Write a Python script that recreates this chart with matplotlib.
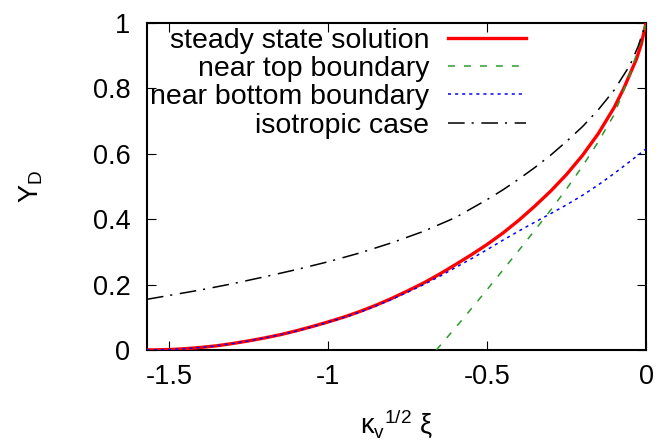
import numpy as np
import matplotlib
matplotlib.use("Agg")
import matplotlib.pyplot as plt

# === DATA ===
steady_x = [-1.571, -1.5, -1.45, -1.4, -1.35, -1.3, -1.25, -1.2, -1.15, -1.1,
            -1.05, -1.0, -0.95, -0.9, -0.85, -0.8, -0.75, -0.7, -0.65, -0.6,
            -0.55, -0.5, -0.45, -0.4, -0.35, -0.3, -0.25, -0.2, -0.15, -0.1,
            -0.07, -0.05, -0.03, -0.015, 0.0]
steady_y = [0.0, 0.0014, 0.004, 0.008, 0.013, 0.020, 0.028, 0.037, 0.047, 0.059,
            0.072, 0.086, 0.101, 0.118, 0.137, 0.158, 0.181, 0.205, 0.232, 0.261,
            0.291, 0.323, 0.358, 0.397, 0.440, 0.486, 0.537, 0.595, 0.662, 0.742,
            0.800, 0.845, 0.890, 0.935, 1.0]

top_x = [-0.66, -0.6, -0.55, -0.5, -0.45, -0.4, -0.35, -0.3, -0.25, -0.2,
         -0.15, -0.1, -0.05, -0.025, 0.0]
top_y = [0.0, 0.068, 0.126, 0.185, 0.245, 0.305, 0.366, 0.428, 0.493, 0.562,
         0.637, 0.720, 0.845, 0.920, 1.0]

bottom_x = [-1.571, -1.5, -1.45, -1.4, -1.35, -1.3, -1.25, -1.2, -1.15, -1.1,
            -1.05, -1.0, -0.95, -0.9, -0.85, -0.8, -0.75, -0.7, -0.65, -0.6,
            -0.55, -0.5, -0.45, -0.4, -0.35, -0.3, -0.25, -0.2, -0.15, -0.1,
            -0.05, 0.0]
bottom_y = [0.0, 0.0014, 0.004, 0.008, 0.013, 0.020, 0.028, 0.037, 0.047, 0.058,
            0.071, 0.085, 0.100, 0.116, 0.135, 0.155, 0.177, 0.200, 0.225, 0.252,
            0.279, 0.307, 0.336, 0.364, 0.391, 0.417, 0.444, 0.473, 0.505, 0.540,
            0.577, 0.615]

iso_x = [-1.571, -1.5, -1.4, -1.3, -1.2, -1.1, -1.0, -0.9, -0.8, -0.7,
         -0.6, -0.5, -0.45, -0.4, -0.35, -0.3, -0.25, -0.2, -0.15, -0.1,
         -0.05, -0.025, 0.0]
iso_y = [0.155, 0.167, 0.184, 0.203, 0.224, 0.246, 0.270, 0.297, 0.328, 0.363,
         0.405, 0.460, 0.490, 0.523, 0.558, 0.596, 0.638, 0.683, 0.735, 0.795,
         0.872, 0.928, 1.0]

zero_x = [-1.571, 0.0]
zero_y = [0.0, 0.0]

xticks = [-1.5, -1.0, -0.5, 0.0]
xtick_labels = ["-1.5", "-1", "-0.5", "0"]
yticks = [0, 0.2, 0.4, 0.6, 0.8, 1.0]
ytick_labels = ["0", "0.2", "0.4", "0.6", "0.8", "1"]

# === STYLE ===
plt.rcParams["font.family"] = ["Liberation Sans", "DejaVu Sans"]
plt.rcParams["mathtext.fontset"] = "custom"
plt.rcParams["mathtext.rm"] = "Liberation Sans"
plt.rcParams["mathtext.it"] = "Liberation Sans"
plt.rcParams["mathtext.default"] = "regular"
fs = 19.5
fs_leg = 20.5

fig = plt.figure(figsize=(6.61, 4.46), dpi=100)
ax = fig.add_axes([147 / 661, 1 - 350 / 446, 499 / 661, 327 / 446])

lw = 1.1
dashdot = (12 / lw, 5 / lw, 1.5 / lw, 5.5 / lw)
ax.plot(zero_x, zero_y, color="black", lw=lw, dashes=dashdot, zorder=1)
ax.plot(steady_x, steady_y, color="#ff0000", lw=2.4, label="steady state solution", zorder=3)
ax.plot(top_x, top_y, color="#2e9a2e", lw=lw, dashes=(5 / lw, 6.5 / lw), label="near top boundary", zorder=4)
ax.plot(bottom_x, bottom_y, color="#0000ff", lw=lw, dashes=(2.2 / lw, 2.9 / lw), label="near bottom boundary", zorder=4)
ax.plot(iso_x, iso_y, color="black", lw=lw, dashes=dashdot, label="isotropic case", zorder=4)

ax.set_xlim(-np.pi / 2, 0)
ax.set_ylim(0, 1)
ax.set_xticks(xticks)
ax.set_xticklabels(xtick_labels)
ax.set_yticks(yticks)
ax.set_yticklabels(ytick_labels)
ax.tick_params(direction="in", top=True, right=True, length=6.5, width=0.8, labelsize=fs)
ax.tick_params(axis="x", pad=10)
ax.tick_params(axis="y", pad=12)
for s in ax.spines.values():
    s.set_linewidth(1.5)

ax.set_xlabel(r"$\kappa_v{}^{1/2}\ \xi$", fontsize=fs)
ax.set_ylabel(r"$Y_D$", fontsize=fs)
ax.xaxis.set_label_coords(0.5, -0.175)
ax.yaxis.set_label_coords(-0.205, 0.5)

leg = ax.legend(loc="upper right", bbox_to_anchor=(0.7595, 0.985), frameon=False,
                markerfirst=False, fontsize=fs_leg, handlelength=2.75, handletextpad=0.65,
                labelspacing=0.08, borderpad=0, borderaxespad=0)

fig.savefig("out.png", dpi=100)
